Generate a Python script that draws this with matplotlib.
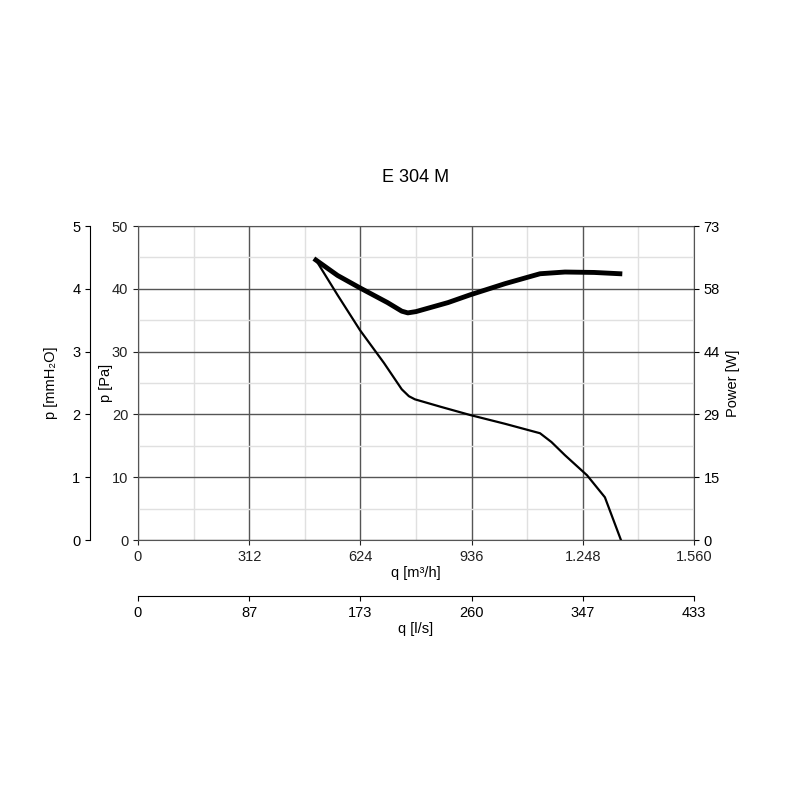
import matplotlib
matplotlib.use("Agg")
import matplotlib.pyplot as plt
plt.rcParams['font.family'] = ['Liberation Sans', 'DejaVu Sans']

q_p = [499, 560, 623, 690, 740, 760, 777, 850, 932, 1030, 1128, 1160, 1198, 1260, 1310, 1355]
p_pa = [44.6, 39.0, 33.4, 28.2, 24.0, 22.9, 22.4, 21.2, 19.9, 18.5, 17.0, 15.6, 13.5, 10.3, 6.8, 0.0]
q_w = [499, 560, 623, 700, 740, 757, 780, 870, 932, 1030, 1128, 1198, 1280, 1352]
pw = [65.1, 61.5, 58.6, 55.2, 53.2, 52.8, 53.1, 55.2, 57.0, 59.6, 61.9, 62.3, 62.2, 61.9]
xt = [0, 312, 624, 936, 1248, 1560]
xt_lab = ["0", "312", "624", "936", "1.248", "1.560"]
ls_lab = ["0", "87", "173", "260", "347", "433"]
rt_lab = ["0", "15", "29", "44", "58", "73"]

fig = plt.figure(figsize=(8, 8), dpi=100)
ax = fig.add_axes([138/800, 1-540/800, 556/800, 314/800])
ax.set_xlim(0, 1560); ax.set_ylim(0, 50)
ax.set_xticks(xt); ax.set_xticklabels(xt_lab)
ax.set_yticks(range(0, 51, 10))
ax.set_xticks(range(156, 1560, 312), minor=True)
ax.set_yticks(range(5, 50, 10), minor=True)
ax.grid(which="major", color="#555555", lw=1)
ax.grid(which="minor", color="#e0e0e0", lw=1)
ax.set_axisbelow(True)
ax.tick_params(which="minor", length=0)
ax.tick_params(labelsize=10.5, colors="#222222")
for s in ax.spines.values():
    s.set_color("#555555")
ax.set_xlabel("q [m³/h]", fontsize=10.5, labelpad=2)
ax.set_ylabel("p [Pa]", fontsize=10.5, labelpad=-1)
ax.plot(q_p, p_pa, color="black", lw=1.6, solid_joinstyle="round")
axr = ax.twinx()
axr.set_ylim(0, 50)
axr.set_yticks(range(0, 51, 10)); axr.set_yticklabels(rt_lab)
axr.plot(q_w, [v*50/73 for v in pw], color="black", lw=3.5, solid_joinstyle="round")
axr.set_ylabel("Power [W]", fontsize=10.5)
axr.tick_params(labelsize=10.5)
for s in axr.spines.values():
    s.set_visible(False)
ax.set_title("E 304 M", fontsize=13, pad=32)

axl = fig.add_axes([90/800, 1-540/800, 0.0001, 314/800])
axl.set_ylim(0, 5); axl.set_yticks(range(6))
for k in ["top", "right", "bottom"]:
    axl.spines[k].set_visible(False)
axl.set_xticks([])
axl.tick_params(labelsize=10.5)
axl.set_ylabel("p [mmH₂O]", fontsize=10.5, labelpad=10)

axb = fig.add_axes([138/800, 1-596/800, 556/800, 0.0001])
axb.set_xlim(0, 1560); axb.set_xticks(xt); axb.set_xticklabels(ls_lab)
for k in ["top", "right", "left"]:
    axb.spines[k].set_visible(False)
axb.set_yticks([])
axb.tick_params(labelsize=10.5)
axb.set_xlabel("q [l/s]", fontsize=10.5, labelpad=2)
fig.savefig("out.png")
